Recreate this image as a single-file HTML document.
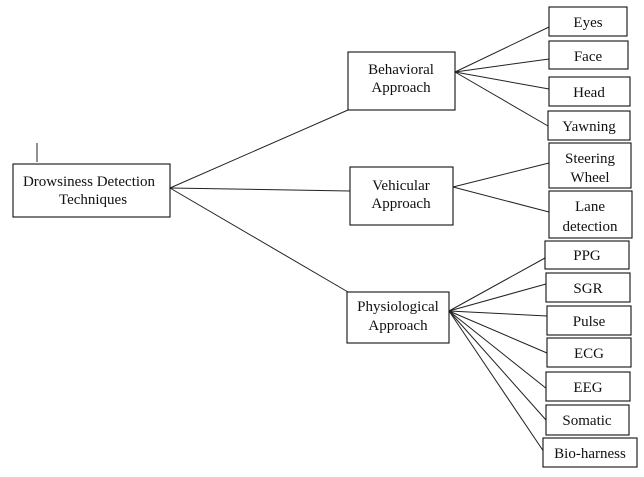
<!DOCTYPE html>
<html><head><meta charset="utf-8"><style>
html,body{margin:0;padding:0;background:#fff;}
svg{display:block;}
text{font-family:"Liberation Serif",serif;font-size:15px;fill:#111;text-anchor:middle;}
rect{fill:#fff;stroke:#111;stroke-width:1.1;}
line{stroke:#222;stroke-width:1;}
</style></head><body>
<svg width="644" height="477" viewBox="0 0 644 477" xmlns="http://www.w3.org/2000/svg">
<line x1="37" y1="143" x2="37" y2="162"/>
<line x1="170" y1="188" x2="348" y2="110"/>
<line x1="170" y1="188" x2="350" y2="191"/>
<line x1="170" y1="188" x2="348" y2="292"/>
<line x1="455" y1="72" x2="549" y2="27"/>
<line x1="455" y1="72" x2="549" y2="59"/>
<line x1="455" y1="72" x2="549" y2="89"/>
<line x1="455" y1="72" x2="548" y2="126"/>
<line x1="453" y1="187" x2="549" y2="163"/>
<line x1="453" y1="187" x2="549" y2="212"/>
<line x1="449" y1="311" x2="545" y2="258"/>
<line x1="449" y1="311" x2="546" y2="284"/>
<line x1="449" y1="311" x2="547" y2="316"/>
<line x1="449" y1="311" x2="547" y2="353"/>
<line x1="449" y1="311" x2="547" y2="389"/>
<line x1="449" y1="311" x2="546" y2="420"/>
<line x1="449" y1="311" x2="544" y2="452"/>

<rect x="13" y="164" width="157" height="53"/>
<text x="89" y="186">Drowsiness Detection</text>
<text x="93" y="204">Techniques</text>

<rect x="348" y="52" width="107" height="58"/>
<text x="401" y="74">Behavioral</text>
<text x="401" y="92">Approach</text>

<rect x="350" y="167" width="103" height="58"/>
<text x="401" y="190">Vehicular</text>
<text x="401" y="208">Approach</text>

<rect x="347" y="292" width="102" height="51"/>
<text x="398" y="311">Physiological</text>
<text x="398" y="330">Approach</text>

<rect x="549" y="7" width="78" height="29"/><text x="588" y="27">Eyes</text>
<rect x="549" y="41" width="79" height="28"/><text x="588" y="61">Face</text>
<rect x="549" y="77" width="81" height="29"/><text x="589" y="97">Head</text>
<rect x="548" y="111" width="82" height="29"/><text x="589" y="131">Yawning</text>
<rect x="549" y="143" width="82" height="45"/><text x="590" y="163">Steering</text><text x="590" y="182">Wheel</text>
<rect x="549" y="191" width="83" height="47"/><text x="590" y="211">Lane</text><text x="590" y="231">detection</text>

<rect x="545" y="241" width="84" height="28"/><text x="587" y="260">PPG</text>
<rect x="546" y="273" width="84" height="29"/><text x="588" y="293">SGR</text>
<rect x="547" y="306" width="84" height="29"/><text x="589" y="326">Pulse</text>
<rect x="547" y="338" width="84" height="29"/><text x="589" y="358">ECG</text>
<rect x="546" y="372" width="84" height="29"/><text x="588" y="392">EEG</text>
<rect x="546" y="405" width="83" height="30"/><text x="587" y="425">Somatic</text>
<rect x="543" y="438" width="94" height="29"/><text x="590" y="458">Bio-harness</text>
</svg>
</body></html>
